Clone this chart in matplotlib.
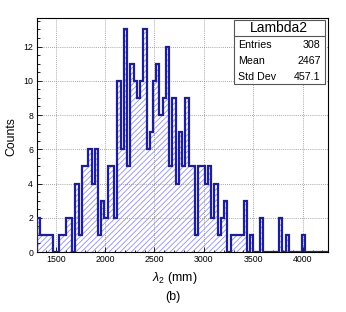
import numpy as np
import matplotlib
matplotlib.use("Agg")
import matplotlib.pyplot as plt
from matplotlib.patches import Rectangle
from matplotlib.ticker import MultipleLocator

matplotlib.rcParams['font.family'] = ['Liberation Sans', 'DejaVu Sans']
matplotlib.rcParams['mathtext.fontset'] = 'custom'
matplotlib.rcParams['mathtext.rm'] = 'Liberation Sans'
matplotlib.rcParams['mathtext.it'] = 'Liberation Sans:italic'
matplotlib.rcParams['hatch.linewidth'] = 0.6

# histogram "Lambda2": 90 bins
x_lo, x_hi = 1306, 4253
counts = [2, 1, 1, 1, 1, 0, 0, 1, 1, 2, 2, 0, 4, 1, 5, 5, 6, 4, 6, 1, 3, 2, 5, 5, 2,
          10, 6, 13, 5, 11, 10, 9, 10, 13, 6, 7, 10, 11, 8, 9, 12, 5, 9, 4, 7, 5, 9, 5, 5, 1,
          5, 5, 4, 5, 2, 4, 1, 2, 3, 0, 1, 1, 1, 1, 3, 0, 1, 0, 0, 2,
          0, 0, 0, 0, 0, 2, 0, 1, 0, 0, 0, 0, 1, 0, 0, 0, 0, 0, 0, 0]
edges = np.linspace(x_lo, x_hi, len(counts) + 1)
stats_title = "Lambda2"
stats_rows = [("Entries", "308"), ("Mean", "2467"), ("Std Dev", "457.1")]

W, H = 346, 312
fig = plt.figure(figsize=(W / 100, H / 100), dpi=100)
ax = fig.add_axes([36.5 / W, 1 - 252 / H, (327.7 - 36.5) / W, (252 - 18.3) / H])

ax.stairs(counts, edges, fill=True, facecolor='none', edgecolor='#8f8ff0',
          linewidth=0, hatch='//////', zorder=1)
ax.stairs(counts, edges, color='#1e1e96', linewidth=1.6, baseline=0, zorder=3)

ax.set_xlim(x_lo, x_hi)
ax.set_ylim(0, max(counts) * 1.05)
ax.xaxis.set_major_locator(MultipleLocator(500))
ax.xaxis.set_minor_locator(MultipleLocator(100))
ax.yaxis.set_major_locator(MultipleLocator(2))
ax.yaxis.set_minor_locator(MultipleLocator(0.5))
ax.tick_params(which='both', direction='in', labelsize=6.3, width=0.6, pad=2.5)
ax.tick_params(which='major', length=3.5)
ax.tick_params(which='minor', length=1.8)
ax.set_axisbelow('line')
ax.grid(True, which='major', color='#8a8a8a', linestyle=(0, (1, 1.5)), linewidth=0.6)
for s in ax.spines.values():
    s.set_linewidth(0.8)

fig.text(11 / W, 1 - 137 / H, "Counts", rotation=90, ha='center', va='center', fontsize=8.8)
fig.text(175 / W, 1 - 278 / H, r"$\lambda_2$ (mm)", ha='center', va='center', fontsize=9)
fig.text(173 / W, 1 - 297 / H, "(b)", ha='center', va='center', fontsize=9)

# stats box
bx0, bx1, by0, by1 = 233.5, 324.5, 20, 84
fig.patches.append(Rectangle((bx0 / W + 1.2 / W, 1 - by1 / H - 1.2 / H), (bx1 - bx0) / W, (by1 - by0) / H,
                             transform=fig.transFigure, facecolor='#777777', edgecolor='none', zorder=5))
fig.patches.append(Rectangle((bx0 / W, 1 - by1 / H), (bx1 - bx0) / W, (by1 - by0) / H,
                             transform=fig.transFigure, facecolor='white', edgecolor='#555555',
                             linewidth=0.8, zorder=6))
fig.lines.append(plt.Line2D([bx0 / W, bx1 / W], [1 - 36 / H, 1 - 36 / H], transform=fig.transFigure,
                            color='#555555', linewidth=0.8, zorder=7))
fig.text((bx0 + bx1) / 2 / W, 1 - 28.5 / H, stats_title, ha='center', va='center', fontsize=10, zorder=8)
for i, (name, val) in enumerate(stats_rows):
    y = 1 - (44.5 + 16 * i) / H
    fig.text(238.5 / W, y, name, ha='left', va='center', fontsize=7.7, zorder=8)
    fig.text(320.5 / W, y, val, ha='right', va='center', fontsize=7.7, zorder=8)

fig.savefig("out.png", dpi=100)
